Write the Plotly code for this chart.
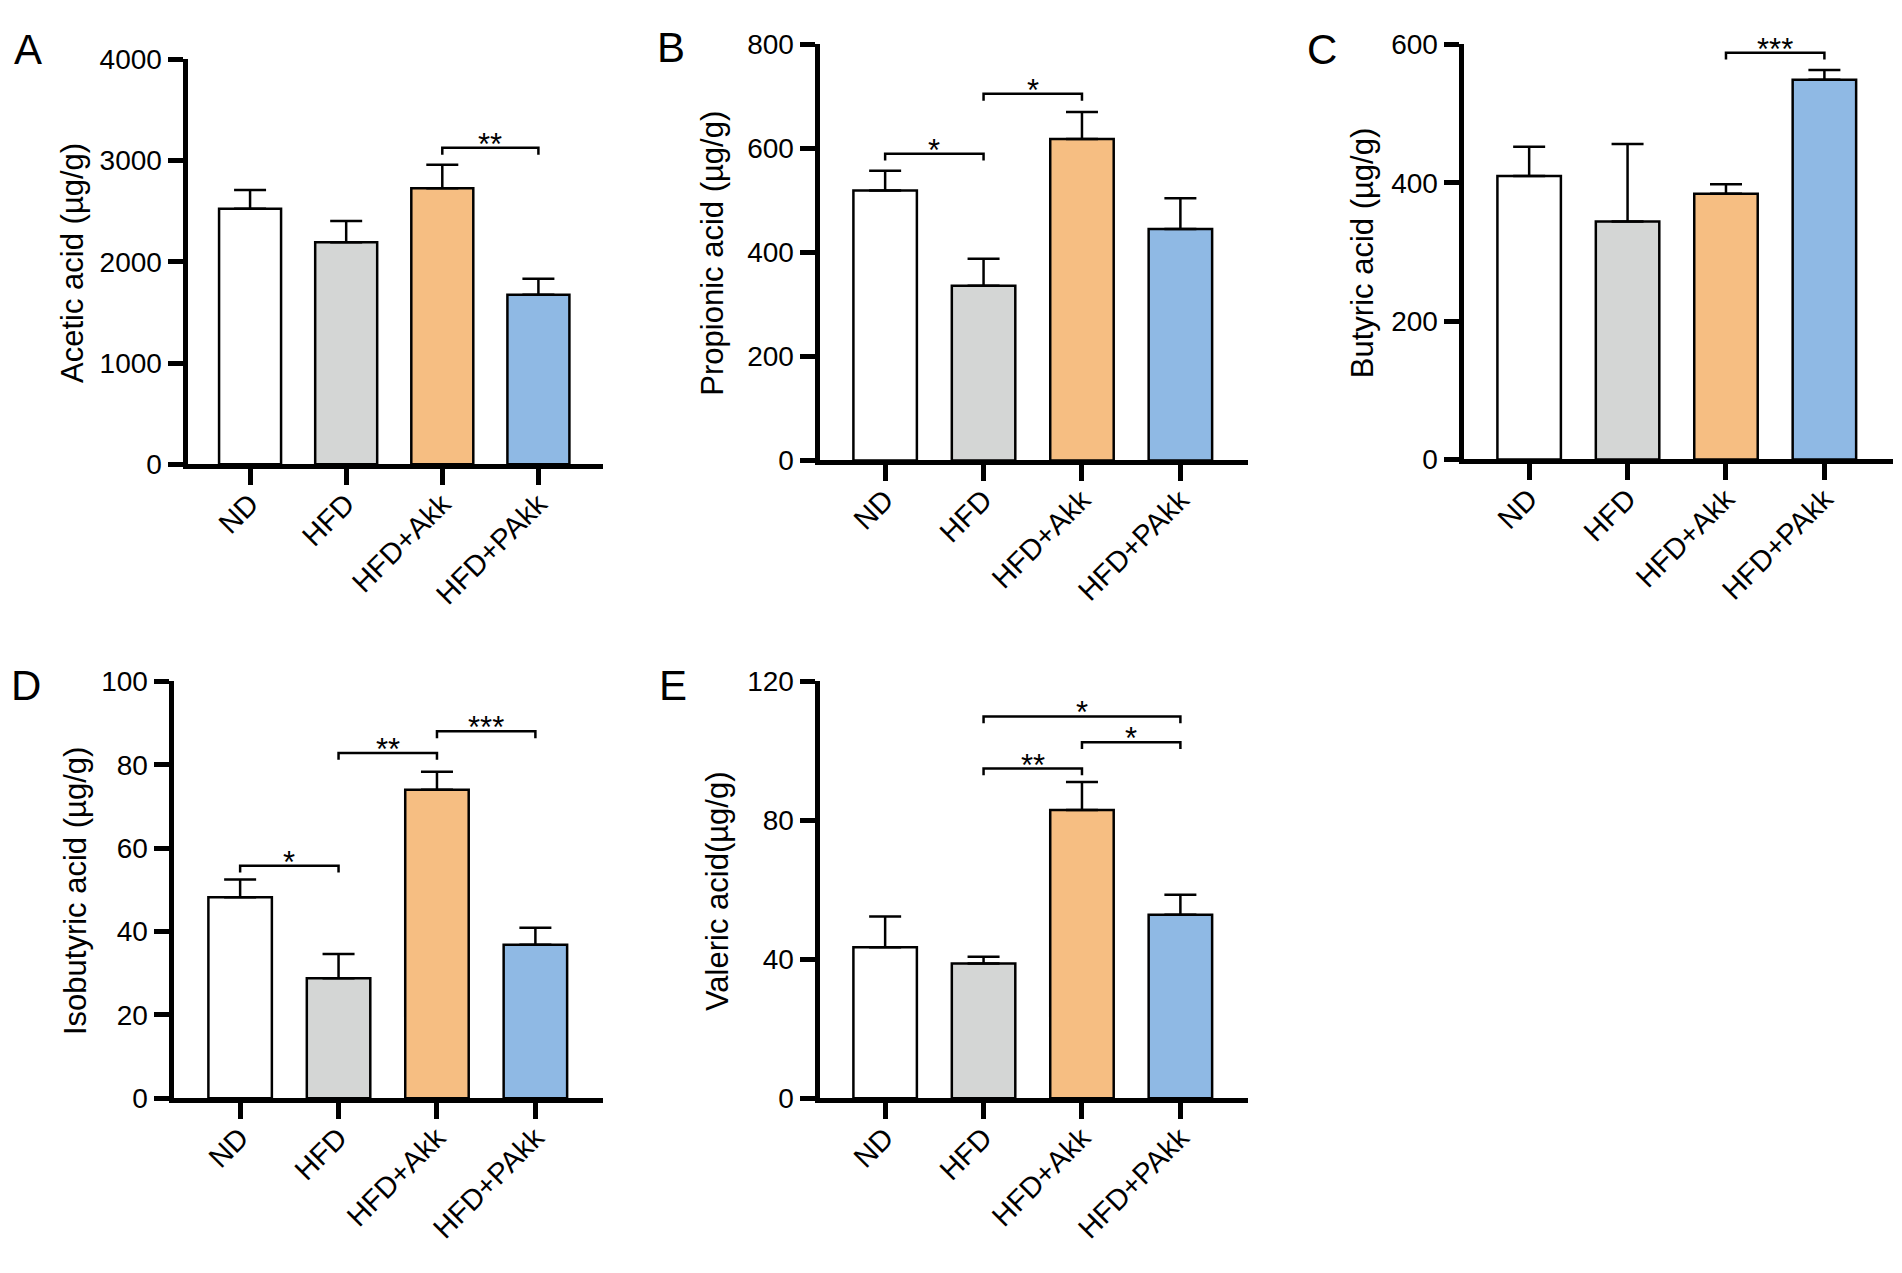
import plotly.graph_objects as go

# page is 1902x1273; the browser body keeps its 8px margin
OX, OY = 8, 8
W, H = 1886, 1256
FONT = 'Liberation Sans, Arial, sans-serif'

groups = ['ND', 'HFD', 'HFD+Akk', 'HFD+PAkk']
bar_colors = ['#ffffff', '#d4d6d5', '#f6be82', '#8fb9e4']

acetic_mean = [2524, 2193, 2725, 1673]
acetic_sem = [185, 210, 233, 160]
propionic_mean = [519, 336, 618, 445]
propionic_sem = [38, 52, 52, 59]
butyric_mean = [410, 344, 384, 549]
butyric_sem = [42, 112, 14, 14]
isobutyric_mean = [48.2, 28.8, 74.0, 36.8]
isobutyric_sem = [4.3, 5.8, 4.3, 4.1]
valeric_mean = [43.5, 38.8, 83.0, 52.8]
valeric_sem = [8.8, 1.9, 8.0, 5.8]

# significance brackets: (group a, group b, bracket height, label)
acetic_sig = [(2, 3, 3124, '**')]
propionic_sig = [(0, 1, 590, '*'), (1, 2, 705, '*')]
butyric_sig = [(2, 3, 588, '***')]
isobutyric_sig = [(0, 1, 55.8, '*'), (1, 2, 82.8, '**'), (2, 3, 88.0, '***')]
valeric_sig = [(1, 2, 94.9, '**'), (2, 3, 102.5, '*'), (1, 3, 109.9, '*')]

acetic_ticks = [0, 1000, 2000, 3000, 4000]
propionic_ticks = [0, 200, 400, 600, 800]
butyric_ticks = [0, 200, 400, 600]
isobutyric_ticks = [0, 20, 40, 60, 80, 100]
valeric_ticks = [0, 40, 80, 120]


def fx(p):
    return (p - OX) / W


def fy(p):
    return 1 - (p - OY) / H


# page pixels of each panel: y-axis x, x-axis end, top, baseline
panels = [
    dict(letter='A', title='Acetic acid (µg/g)', mean=acetic_mean, sem=acetic_sem,
         sig=acetic_sig, ticks=acetic_ticks, box=(185, 603, 45, 463),
         xr=(-0.651, 3.672), title_x=73, letter_xy=(12, 9)),
    dict(letter='B', title='Propionic acid (µg/g)', mean=propionic_mean, sem=propionic_sem,
         sig=propionic_sig, ticks=propionic_ticks, box=(817, 1248, 30, 459),
         xr=(-0.667, 3.687), title_x=713, letter_xy=(655, 7)),
    dict(letter='C', title='Butyric acid (µg/g)', mean=butyric_mean, sem=butyric_sem,
         sig=butyric_sig, ticks=butyric_ticks, box=(1461, 1893, 30, 458),
         xr=(-0.667, 3.697), title_x=1362, letter_xy=(1305, 9)),
    dict(letter='D', title='Isobutyric acid (µg/g)', mean=isobutyric_mean, sem=isobutyric_sem,
         sig=isobutyric_sig, ticks=isobutyric_ticks, box=(171, 603, 683, 1113),
         xr=(-0.677, 3.687), title_x=75, letter_xy=(9, 661)),
    dict(letter='E', title='Valeric acid(µg/g)', mean=valeric_mean, sem=valeric_sem,
         sig=valeric_sig, ticks=valeric_ticks, box=(817, 1248, 683, 1113),
         xr=(-0.667, 3.687), title_x=717, letter_xy=(657, 661)),
]

fig = go.Figure()
annotations = []
LW = 5

for i, p in enumerate(panels, start=1):
    sfx = '' if i == 1 else str(i)
    xa, ya = 'x' + sfx, 'y' + sfx
    x0, x1, top, base = p['box']
    ymax = p['ticks'][-1]

    fig.add_trace(go.Bar(
        x=groups, y=p['mean'],
        width=0.645,
        marker=dict(color=bar_colors, line=dict(color='black', width=2.5)),
        error_y=dict(type='data', symmetric=False, array=p['sem'],
                     arrayminus=[0] * len(groups), color='black',
                     thickness=2.5, width=16),
        xaxis=xa, yaxis=ya, showlegend=False,
    ))

    # bracket legs drop about 7px
    drop = ymax * 7 / (base - top)
    for a, b, level, label in p['sig']:
        fig.add_trace(go.Scatter(
            x=[groups[a], groups[a], groups[b], groups[b]],
            y=[level - drop, level, level, level - drop],
            mode='lines', line=dict(color='black', width=2.5),
            xaxis=xa, yaxis=ya, showlegend=False, cliponaxis=False,
            hoverinfo='skip',
        ))
        annotations.append(dict(
            x=(a + b) / 2, y=level, xref=xa, yref=ya, text=label,
            showarrow=False, yanchor='bottom', yshift=-16,
            font=dict(family=FONT, size=31, color='black'),
        ))

    fig.layout['xaxis' + sfx] = dict(
        domain=[fx(x0 + LW / 2), fx(x1)], anchor=ya,
        range=list(p['xr']), showline=True, linewidth=LW, linecolor='black',
        ticks='outside', ticklen=16, tickwidth=LW, tickcolor='black',
        tickangle=-45, ticklabelstandoff=-10,
        tickfont=dict(family=FONT, size=29, color='black'),
        showgrid=False, zeroline=False,
    )
    fig.layout['yaxis' + sfx] = dict(
        domain=[fy(base - LW / 2), fy(top)], anchor=xa,
        range=[0, ymax], tickvals=p['ticks'], showline=True, linewidth=LW,
        linecolor='black', ticks='outside', ticklen=15, tickwidth=LW,
        tickcolor='black', tickfont=dict(family=FONT, size=28, color='black'),
        showgrid=False, zeroline=False,
    )

    annotations.append(dict(
        x=fx(p['title_x']), y=fy((top + base) / 2), xref='paper', yref='paper',
        text=p['title'], textangle=-90, showarrow=False,
        xanchor='center', yanchor='middle',
        font=dict(family=FONT, size=31, color='black'),
    ))
    lx, ly = p['letter_xy']
    annotations.append(dict(
        x=fx(lx), y=fy(ly), xref='paper', yref='paper', text=p['letter'],
        showarrow=False, xanchor='left', yanchor='top',
        font=dict(family=FONT, size=42, color='black'),
    ))

fig.update_layout(
    width=W, height=H,
    margin=dict(l=0, r=0, t=0, b=0),
    paper_bgcolor='white', plot_bgcolor='white',
    annotations=annotations,
    font=dict(family=FONT, color='black'),
)

fig.write_html('out.html')
